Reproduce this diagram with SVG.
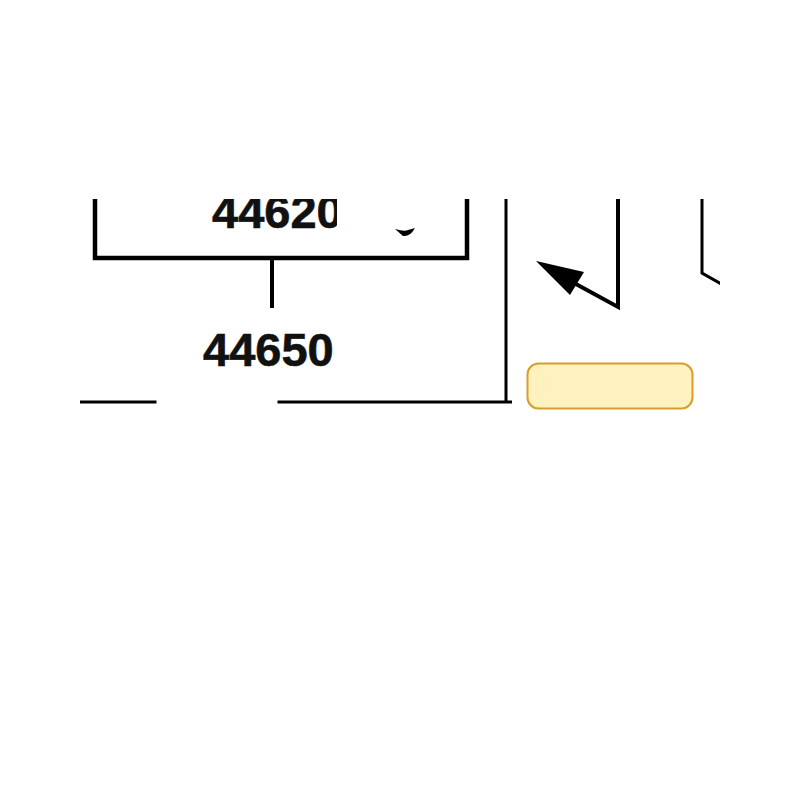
<svg xmlns="http://www.w3.org/2000/svg" width="800" height="800" viewBox="0 0 800 800">
<style>
.ln{fill:none;stroke:#000;stroke-linecap:square;stroke-linejoin:miter}
.lbl{font-family:"Liberation Sans",Arial,sans-serif;font-weight:bold;font-size:47px;fill:#111;stroke:#111;stroke-width:0.6}
</style>
<defs>
<clipPath id="view"><rect x="80" y="199" width="640" height="300"/></clipPath>
<clipPath id="txt"><rect x="150" y="150" width="187" height="120"/></clipPath>
</defs>
<rect width="800" height="800" fill="#fff"/>
<g clip-path="url(#view)">
<g id="node-44620">
<polyline class="ln" stroke-width="4.5" points="95,190 95,258 467,258 467,190"/>
<text class="lbl" x="212" y="228" clip-path="url(#txt)">44620</text>
<path d="M395,229 Q405,232 408,230 L415,228 Q410,237 403,236 Z" fill="#000"/>
</g>
<g id="node-44650">
<text class="lbl" x="203" y="366">44650</text>
</g>
<g id="node-yellow">
<rect x="527.5" y="363.5" width="165" height="45" rx="11" fill="#FFF2BE" stroke="#D69E2E" stroke-width="2"/>
</g>
<g id="connectors">
<line class="ln" stroke-width="4" x1="272" y1="260" x2="272" y2="306"/>
<line class="ln" stroke-width="3" x1="80" y1="402" x2="155" y2="402"/>
<polyline class="ln" stroke-width="3" points="279,402 512,402 506,402 506,190"/>
<polyline class="ln" stroke-width="4" points="618,190 618,307 574,283"/>
<polygon points="536,261 584,272 570,295" fill="#000"/>
<polyline class="ln" stroke-width="3" points="702,190 702,273 725,286"/>
</g>
</g>
</svg>
